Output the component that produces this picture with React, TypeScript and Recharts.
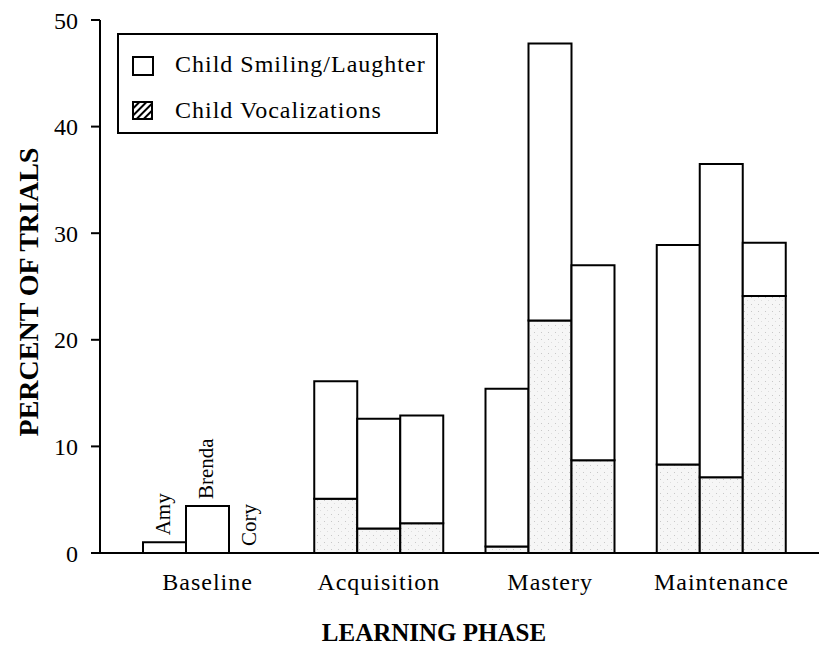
import React from 'react';
import { BarChart, Bar, XAxis, YAxis, LabelList } from 'recharts';

const phases = ['Baseline', 'Acquisition', 'Mastery', 'Maintenance'];
const children = ['Amy', 'Brenda', 'Cory'];

// total bar height (smiling/laughter) per child, per phase
const amyTotal = [1.0, 16.1, 15.4, 28.9];
const brendaTotal = [4.4, 12.6, 47.8, 36.5];
const coryTotal = [0, 12.9, 27.0, 29.1];

// lower shaded part (vocalizations)
const amyVoc = [0, 5.1, 0.6, 8.3];
const brendaVoc = [0, 2.3, 21.8, 7.1];
const coryVoc = [0, 2.8, 8.7, 24.1];

const yTicks = [0, 10, 20, 30, 40, 50];

const totals = [amyTotal, brendaTotal, coryTotal];
const vocs = [amyVoc, brendaVoc, coryVoc];

const data = phases.map((phase, i) => {
  const row: Record<string, any> = { phase };
  children.forEach((c, k) => {
    row[c + 'Voc'] = vocs[k][i];
    row[c + 'Smile'] = totals[k][i] - vocs[k][i];
  });
  return row;
});

const FONT = '"Liberation Serif", "Times New Roman", serif';

function NameLabel(props: any) {
  const { x, y, width, height, name } = props;
  // names only sit above the baseline bars
  const payload = props.payload || {};
  if (payload.phase !== undefined && payload.phase !== phases[0]) return null;
  if (payload.phase === undefined && props.index !== 0) return null;
  const top = Math.min(y, y + (height || 0));
  const cx = x + width / 2 + 6;
  const ty = top - 7;
  return (
    <text
      x={cx}
      y={ty}
      transform={`rotate(-90 ${cx} ${ty})`}
      fontFamily={FONT}
      fontSize={21}
      fill="#000"
      textAnchor="start"
    >
      {name}
    </text>
  );
}

export default function App() {
  return (
    <div style={{ position: 'absolute', left: 0, top: 0, width: 819, height: 649, background: '#fff', fontFamily: FONT }}>
      <BarChart
        width={819}
        height={649}
        data={data}
        margin={{ top: 20, right: 0, left: 0, bottom: 0 }}
        barGap={0}
        barSize={43}
      >
        <defs>
          <pattern id="stipple" width="7" height="7" patternUnits="userSpaceOnUse">
            <rect width="7" height="7" fill="#f6f6f6" />
            <rect x="2" y="3" width="1" height="1" fill="#c8c8c8" />
            <rect x="5" y="6" width="1" height="1" fill="#dddddd" />
          </pattern>
        </defs>
        <XAxis
          dataKey="phase"
          height={96}
          padding={{ left: 22, right: 12 }}
          tickLine={false}
          tickSize={0}
          tickMargin={20}
          axisLine={{ stroke: '#000', strokeWidth: 2 }}
          tick={{ fill: '#000', fontSize: 24, fontFamily: FONT, letterSpacing: 1 }}
        />
        <YAxis
          width={100}
          domain={[0, 50]}
          ticks={yTicks}
          interval={0}
          tickSize={9}
          tickMargin={13}
          axisLine={{ stroke: '#000', strokeWidth: 2 }}
          tickLine={{ stroke: '#000', strokeWidth: 2 }}
          tick={{ fill: '#000', fontSize: 24, fontFamily: FONT }}
        />
        {children.map((c) => [
          <Bar
            key={c + 'Voc'}
            dataKey={c + 'Voc'}
            stackId={c}
            fill="url(#stipple)"
            stroke="#000"
            strokeWidth={2}
            minPointSize={0.01}
            isAnimationActive={false}
          />,
          <Bar
            key={c + 'Smile'}
            dataKey={c + 'Smile'}
            stackId={c}
            fill="#fff"
            stroke="#000"
            strokeWidth={2}
            minPointSize={0.01}
            isAnimationActive={false}
          >
            <LabelList dataKey={c + 'Smile'} content={(p: any) => <NameLabel {...p} name={c} />} />
          </Bar>,
        ])}
      </BarChart>

      {/* legend */}
      <div
        style={{
          position: 'absolute',
          left: 117,
          top: 33,
          width: 317,
          height: 97,
          border: '2px solid #000',
          fontSize: 24,
          color: '#000',
        }}
      >
        <div style={{ position: 'absolute', left: 13, top: 21, width: 18, height: 16, border: '2px solid #000', background: '#fff' }} />
        <div style={{ position: 'absolute', left: 56, top: 16, whiteSpace: 'nowrap', letterSpacing: 1 }}>Child Smiling/Laughter</div>
        <svg style={{ position: 'absolute', left: 13, top: 66 }} width={22} height={20}>
          <defs>
            <pattern id="hatch" width="5" height="5" patternUnits="userSpaceOnUse" patternTransform="rotate(45)">
              <rect width="5" height="5" fill="#fff" />
              <rect width="2" height="5" fill="#000" />
            </pattern>
          </defs>
          <rect x={1} y={1} width={19} height={17} fill="url(#hatch)" stroke="#000" strokeWidth={2} />
        </svg>
        <div style={{ position: 'absolute', left: 56, top: 62, whiteSpace: 'nowrap', letterSpacing: 1 }}>Child Vocalizations</div>
      </div>

      {/* axis titles */}
      <div
        style={{
          position: 'absolute',
          left: 29,
          top: 292,
          transform: 'translate(-50%, -50%) rotate(-90deg)',
          whiteSpace: 'nowrap',
          fontWeight: 'bold',
          fontSize: 28,
          color: '#000',
        }}
      >
        PERCENT OF TRIALS
      </div>
      <div
        style={{
          position: 'absolute',
          left: 434,
          top: 633,
          transform: 'translate(-50%, -50%)',
          whiteSpace: 'nowrap',
          fontWeight: 'bold',
          fontSize: 25,
          color: '#000',
        }}
      >
        LEARNING PHASE
      </div>
    </div>
  );
}
